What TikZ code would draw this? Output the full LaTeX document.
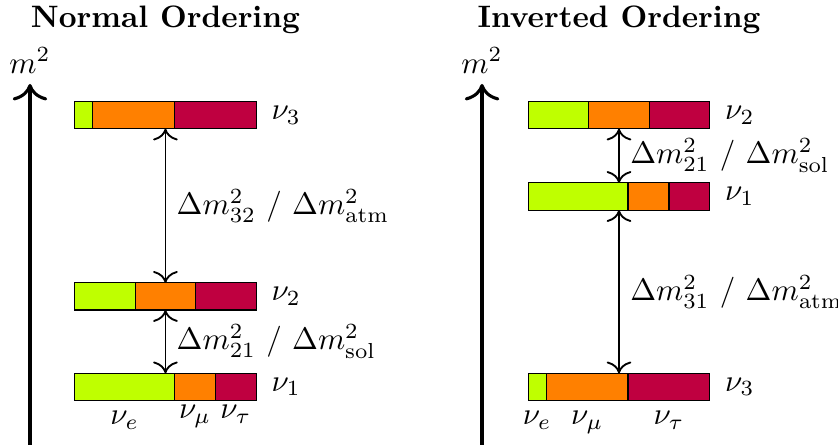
\documentclass[tikz,border=0pt]{standalone}
\usepackage{amsmath}
\usetikzlibrary{arrows.meta,calc,positioning}

% flavour split of one mass bar: #1 node name, #2 end of nu_e part, #3 end of nu_mu part
\newcommand{\mixbar}[3]{%
  \draw[fill=lime]   (#1.south west) rectangle ($(#1.north west)!#2!(#1.north east)$);
  \draw[fill=orange] ($(#1.south west)!#2!(#1.south east)$) rectangle ($(#1.north west)!#3!(#1.north east)$);
  \draw[fill=purple] ($(#1.south west)!#3!(#1.south east)$) rectangle (#1.north east);
}

\begin{document}
\begin{tikzpicture}[
  massbar/.style={draw, minimum width=2.06cm, minimum height=0.31cm, inner sep=0pt, outer sep=0pt},
  masslab/.style={right=0.5mm of #1},
  axis/.style={-{To[scale=1.4]}, line width=1pt},
  gap/.style={{To[scale=1.3]}-{To[scale=1.3]}, semithick},
  heading/.style={font=\bfseries}
]
  \useasboundingbox (0,0) rectangle (9.501,5.045);
  \def\xno{1.876}\def\xio{7.018}

  % headings
  \node[heading] (title-no) at (\xno,4.82) {Normal Ordering};
  \node[heading] (title-io) at (\xio,4.82) {Inverted Ordering};

  % m^2 axes
  \coordinate (no-base) at (0.34,0);   \coordinate (no-top) at (0.34,4.093);
  \coordinate (io-base) at (5.465,0);  \coordinate (io-top) at (5.465,4.093);
  \draw[axis] (no-base) -- (no-top);
  \draw[axis] (io-base) -- (io-top);
  \node[above] (no-m2) at (no-top) {$m^2$};
  \node[above] (io-m2) at (io-top) {$m^2$};

  % Normal ordering
  \node[massbar] (no3) at (\xno,3.741) {};
  \node[massbar] (no2) at (\xno,1.684) {};
  \node[massbar] (no1) at (\xno,0.658) {};
  \mixbar{no3}{0.10}{0.55}
  \mixbar{no2}{0.333}{0.667}
  \mixbar{no1}{0.55}{0.775}
  \node[masslab=no3] (no3-lab) {$\nu_3$};
  \node[masslab=no2] (no2-lab) {$\nu_2$};
  \node[masslab=no1] (no1-lab) {$\nu_1$};

  \draw[gap] (no3) -- (no2) node[midway, right] (no-atm) {$\Delta m^2_{32}$ / $\Delta m^2_{\mathrm{atm}}$};
  \draw[gap] (no2) -- (no1) node[midway, right] (no-sol) {$\Delta m^2_{21}$ / $\Delta m^2_{\mathrm{sol}}$};

  \node[below] (no-e)   at ($(no1.south west)!0.275!(no1.south east)$) {$\nu_e$};
  \node[below, yshift=2pt] (no-mu)  at ($(no1.south west)!0.6625!(no1.south east)$) {$\nu_\mu$};
  \node[below, yshift=2pt] (no-tau) at ($(no1.south west)!0.8875!(no1.south east)$) {$\nu_\tau$};

  % Inverted ordering
  \node[massbar] (io2) at (\xio,3.741) {};
  \node[massbar] (io1) at (\xio,2.817) {};
  \node[massbar] (io3) at (\xio,0.658) {};
  \mixbar{io2}{0.333}{0.667}
  \mixbar{io1}{0.55}{0.775}
  \mixbar{io3}{0.10}{0.55}
  \node[masslab=io2] (io2-lab) {$\nu_2$};
  \node[masslab=io1] (io1-lab) {$\nu_1$};
  \node[masslab=io3] (io3-lab) {$\nu_3$};

  \draw[gap] (io2) -- (io1) node[midway, right] (io-sol) {$\Delta m^2_{21}$ / $\Delta m^2_{\mathrm{sol}}$};
  \draw[gap] (io1) -- (io3) node[midway, right] (io-atm) {$\Delta m^2_{31}$ / $\Delta m^2_{\mathrm{atm}}$};

  \node[below] (io-e)   at ($(io3.south west)!0.05!(io3.south east)$) {$\nu_e$};
  \node[below] (io-mu)  at ($(io3.south west)!0.325!(io3.south east)$) {$\nu_\mu$};
  \node[below] (io-tau) at ($(io3.south west)!0.775!(io3.south east)$) {$\nu_\tau$};
\end{tikzpicture}
\end{document}
